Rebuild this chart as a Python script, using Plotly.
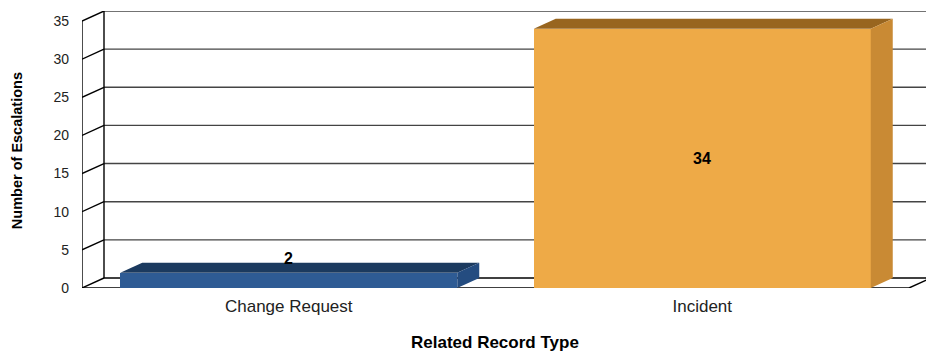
import plotly.graph_objects as go

categories = ["Change Request", "Incident"]
values = [2, 34]
front_colors = ["#2e5b94", "#eeaa47"]
top_colors = ["#1b3a5f", "#98651f"]
side_colors = ["#244c80", "#c98a34"]
y_ticks = [0, 5, 10, 15, 20, 25, 30, 35]

# 3D offset expressed in axis units
px_per_x = 413.5
px_per_y = 7.62
dxu = 22 / px_per_x
dyu = 10 / px_per_y
bar_w = 0.815
ymax = 35

# the page body has an 8px default margin; lay out in page pixels minus that
OFF = 8
W, H = 934 - OFF, 353 - OFF
x_left, x_right = -0.5, 1.5
plot_l, plot_t = 82 - OFF, 11 - OFF
plot_w = (x_right + dxu - x_left) * px_per_x
plot_h = (ymax + dyu) * px_per_y
plot_b = plot_t + plot_h


def px_to_paper(px, py):
    return (px - OFF - plot_l) / plot_w, (plot_b - (py - OFF)) / plot_h


fig = go.Figure()
xs = list(range(len(categories)))
fig.add_trace(go.Bar(x=xs, y=values, width=bar_w, marker=dict(color=front_colors, line=dict(width=0)),
                     hoverinfo="skip"))

shapes = []
grid = dict(color="#444444", width=1.4)
blk = dict(color="#000000", width=1.4)
for v in y_ticks:
    shapes.append(dict(type="line", xref="x", yref="y", x0=x_left + dxu, x1=x_right + dxu,
                       y0=v + dyu, y1=v + dyu, line=blk if v == 0 else grid, layer="below"))
    shapes.append(dict(type="line", xref="x", yref="y", x0=x_left, x1=x_left + dxu,
                       y0=v, y1=v + dyu, line=blk, layer="below"))
shapes.append(dict(type="line", xref="x", yref="y", x0=x_left, x1=x_left, y0=0, y1=ymax, line=blk, layer="below"))
shapes.append(dict(type="line", xref="x", yref="y", x0=x_left + dxu, x1=x_left + dxu, y0=dyu, y1=ymax + dyu, line=blk, layer="below"))
shapes.append(dict(type="line", xref="x", yref="y", x0=x_right + dxu, x1=x_right + dxu, y0=dyu, y1=ymax + dyu, line=grid, layer="below"))
shapes.append(dict(type="line", xref="x", yref="y", x0=x_left, x1=x_right, y0=0, y1=0, line=blk, layer="below"))
shapes.append(dict(type="line", xref="x", yref="y", x0=x_right, x1=x_right + dxu, y0=0, y1=dyu, line=blk, layer="below"))

for i, v in enumerate(values):
    x0 = xs[i] - bar_w / 2
    x1 = xs[i] + bar_w / 2
    top = f"M {x0},{v} L {x0 + dxu},{v + dyu} L {x1 + dxu},{v + dyu} L {x1},{v} Z"
    side = f"M {x1},0 L {x1 + dxu},{dyu} L {x1 + dxu},{v + dyu} L {x1},{v} Z"
    shapes.append(dict(type="path", xref="x", yref="y", path=top, fillcolor=top_colors[i],
                       line=dict(width=0), layer="above"))
    shapes.append(dict(type="path", xref="x", yref="y", path=side, fillcolor=side_colors[i],
                       line=dict(width=0), layer="above"))

annotations = []
for i, v in enumerate(values):
    ly = v / 2 if v > 5 else v + dyu + 0.6
    annotations.append(dict(x=xs[i], y=ly, xref="x", yref="y", text=str(v), showarrow=False,
                            font=dict(family="Liberation Sans, Arial", size=16, color="#000000", weight="bold"),
                            xanchor="center", yanchor="middle"))

tx, ty = px_to_paper(495, 342)
annotations.append(dict(x=tx, y=ty, xref="paper", yref="paper", text="Related Record Type",
                        showarrow=False, xanchor="center", yanchor="middle",
                        font=dict(family="Liberation Sans, Arial", size=17, color="#000000", weight="bold")))
tx, ty = px_to_paper(17, 151)
annotations.append(dict(x=tx, y=ty, xref="paper", yref="paper", text="Number of Escalations",
                        showarrow=False, xanchor="center", yanchor="middle", textangle=-90,
                        font=dict(family="Liberation Sans, Arial", size=14.5, color="#000000", weight="bold")))

fig.update_layout(
    width=W, height=H,
    margin=dict(l=plot_l, r=W - plot_l - plot_w, t=plot_t, b=H - plot_b, pad=0, autoexpand=False),
    paper_bgcolor="white", plot_bgcolor="white",
    showlegend=False,
    shapes=shapes, annotations=annotations,
    bargap=0,
    font=dict(family="Liberation Sans, Arial", color="#222222"),
    xaxis=dict(range=[x_left, x_right + dxu], tickmode="array", tickvals=xs, ticktext=categories,
               showgrid=False, zeroline=False, showline=False, ticks="", automargin=False,
               ticklabelstandoff=6, tickfont=dict(size=17, color="#222222")),
    yaxis=dict(range=[0, ymax + dyu], tickmode="array", tickvals=y_ticks,
               showgrid=False, zeroline=False, showline=False, ticks="", automargin=False,
               ticklabelstandoff=12, tickfont=dict(size=14, color="#222222")),
)

fig.write_html("out.html")
